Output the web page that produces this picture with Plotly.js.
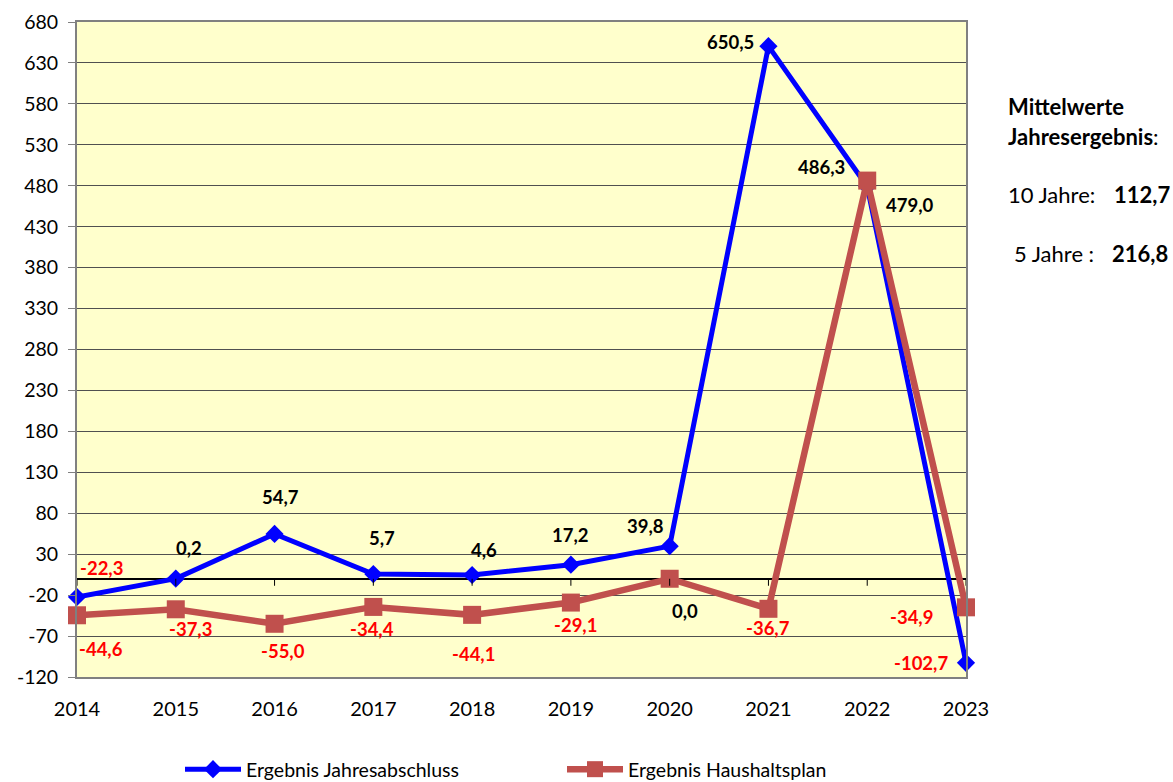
<!DOCTYPE html>
<html>
<head>
<meta charset="utf-8">
<script src="https://cdn.plot.ly/plotly-3.0.1.min.js"></script>
<style>html,body{margin:0;padding:0;background:#fff;}#chart{width:1173px;height:782px;}</style>
</head>
<body>
<div id="chart"></div>
<script>
const years = [2014, 2015, 2016, 2017, 2018, 2019, 2020, 2021, 2022, 2023];
const jahresabschluss = [-22.3, 0.2, 54.7, 5.7, 4.6, 17.2, 39.8, 650.5, 479.0, -102.7];
const haushaltsplan = [-44.6, -37.3, -55.0, -34.4, -44.1, -29.1, 0.0, -36.7, 486.3, -34.9];
const yTicks = [-120, -70, -20, 30, 80, 130, 180, 230, 280, 330, 380, 430, 480, 530, 580, 630, 680];
const seriesNames = ['Ergebnis Jahresabschluss', 'Ergebnis Haushaltsplan'];
const meanLabels = ['10 Jahre:', '5 Jahre :'];
const meanValues = ['112,7', '216,8'];

// label offsets in pixels (dx right, dy down)
const blueOff = [[24,-29],[13,-31],[6,-37],[9,-36],[12,-25],[0,-30],[-24,-20],[-38,-4],[43,18],[-45,0]];
const redOff  = [[24,34],[15,20],[8,27],[-1,22],[1,39],[5,22],[15,32],[0,19],[-46,-14],[-55,10]];

const FONT = 'Lato, "Open Sans", sans-serif';
const fmt = v => v.toFixed(1).replace('.', ',');

const traces = [
  {
    x: years, y: jahresabschluss, type: 'scatter', mode: 'lines+markers',
    name: seriesNames[0], cliponaxis: false,
    line: {color: '#0000FF', width: 5},
    marker: {symbol: 'diamond', size: 14, color: '#0000FF'}
  },
  {
    x: years, y: haushaltsplan, type: 'scatter', mode: 'lines+markers',
    name: seriesNames[1], cliponaxis: false,
    line: {color: '#C0504D', width: 6.5},
    marker: {symbol: 'square', size: 18, color: '#C0504D'}
  }
];

const annotations = [];
function addLabels(vals, offs) {
  vals.forEach((v, i) => {
    annotations.push({
      x: years[i], y: v, xref: 'x', yref: 'y', text: '<b>' + fmt(v) + '</b>',
      showarrow: false, xshift: offs[i][0], yshift: -offs[i][1],
      font: {family: FONT, size: 18.5, color: v < 0 ? '#FF0000' : '#000000'}
    });
  });
}
addLabels(jahresabschluss, blueOff);
addLabels(haushaltsplan, redOff);

// side text (pixel helpers)
const L = 77, T = 22, W = 889, H = 655;
const px = x => (x - L) / W;
const py = y => (T + H - y) / H;
const sideFont = {family: FONT, size: 22, color: '#000'};
function side(x, y, text) {
  annotations.push({xref:'paper', yref:'paper', x: px(x), y: py(y), xanchor:'left', yanchor:'middle',
                    showarrow:false, text: text, font: sideFont});
}
side(1006, 106, '<b>Mittelwerte</b>');
side(1006, 136, '<b>Jahresergebnis</b>:');
side(1006, 195, meanLabels[0]);
side(1112, 195, '<b>' + meanValues[0] + '</b>');
side(1012, 254, meanLabels[1]);
side(1110, 254, '<b>' + meanValues[1] + '</b>');

// tick marks on the zero axis line
const shapes = years.map(yr => ({
  type: 'line', xref: 'x', yref: 'y', ysizemode: 'pixel', yanchor: 0,
  x0: yr, x1: yr, y0: 0, y1: -7, line: {color: '#000', width: 1}
}));

const layout = {
  width: 1173, height: 782,
  margin: {l: 77, r: 207, t: 22, b: 105, autoexpand: false},
  paper_bgcolor: '#ffffff', plot_bgcolor: '#FFFFCC',
  font: {family: FONT, size: 18, color: '#000'},
  showlegend: true,
  legend: {orientation: 'h', x: px(180), y: py(750), xanchor: 'left', yanchor: 'top',
           itemwidth: 56, entrywidth: 311, entrywidthmode: 'pixels',
           font: {family: FONT, size: 19.5, color: '#000'},
           bgcolor: 'rgba(0,0,0,0)'},
  xaxis: {
    range: [2014, 2023], tickmode: 'array', tickvals: years, ticktext: years.map(String),
    showgrid: false, zeroline: false, ticks: '', ticklabelstandoff: 13,
    showline: true, linecolor: '#808080', linewidth: 2, mirror: true,
    tickfont: {family: FONT, size: 20, color: '#000'}
  },
  yaxis: {
    range: [-120, 680], tickmode: 'array', tickvals: yTicks, ticktext: yTicks.map(String),
    showgrid: true, gridcolor: '#505050', gridwidth: 1,
    zeroline: true, zerolinecolor: '#000000', zerolinewidth: 1.5,
    ticks: 'outside', ticklen: 7, tickcolor: '#808080', tickwidth: 1, ticklabelstandoff: 6,
    showline: true, linecolor: '#808080', linewidth: 2, mirror: true,
    tickfont: {family: FONT, size: 19.5, color: '#000'}
  },
  annotations: annotations,
  shapes: shapes
};

Plotly.newPlot('chart', traces, layout, {displayModeBar: false, staticPlot: true});
</script>
</body>
</html>
